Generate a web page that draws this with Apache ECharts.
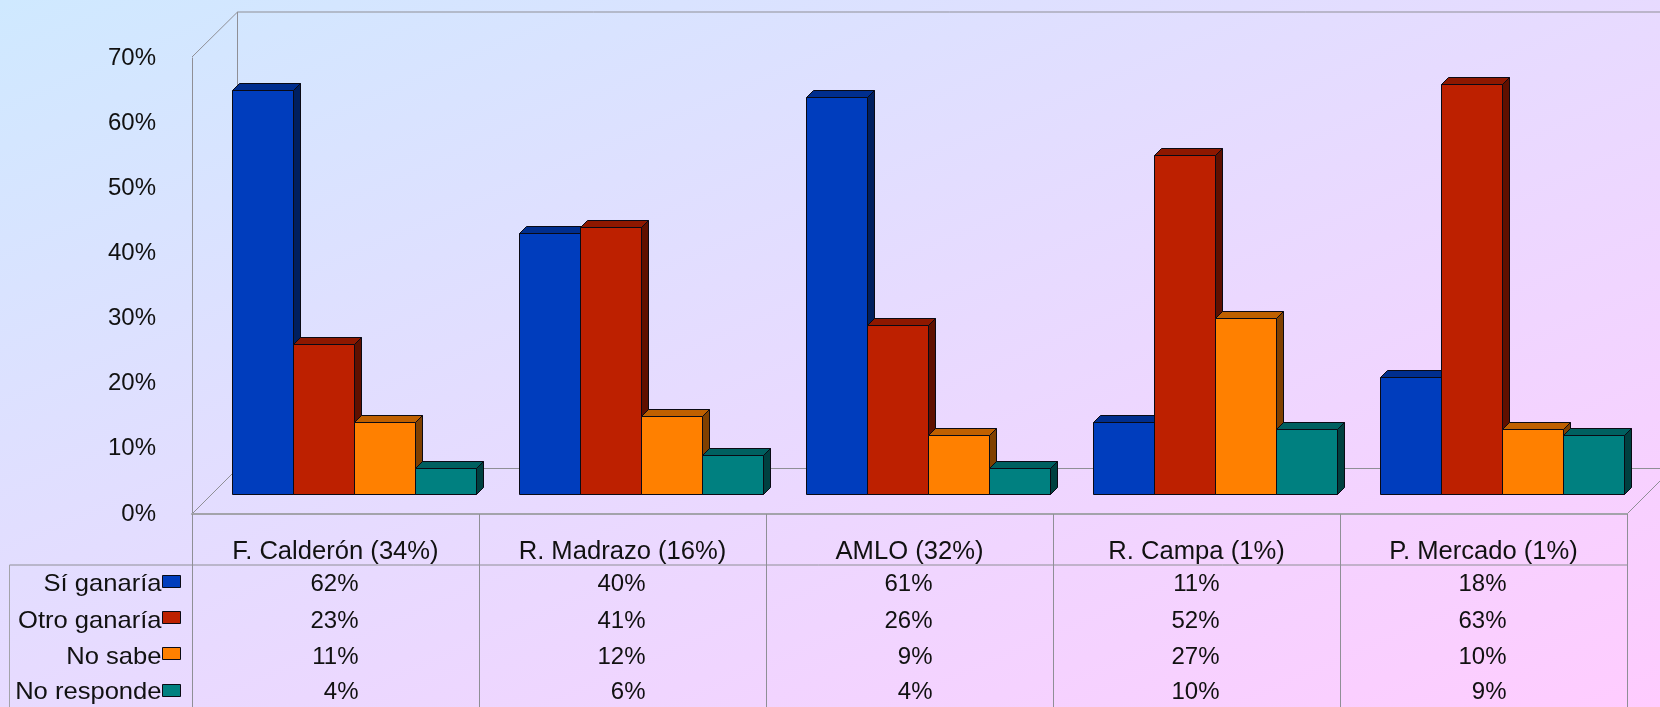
<!DOCTYPE html>
<html>
<head>
<meta charset="utf-8">
<style>html,body{margin:0;padding:0;overflow:hidden;background:#e8d8ff}#c{width:1660px;height:707px}</style>
<script src="https://cdn.jsdelivr.net/npm/echarts@6/dist/echarts.min.js"></script>
</head>
<body>
<div id="c"></div>
<script>
const categories = ['F. Calderón (34%)','R. Madrazo (16%)','AMLO (32%)','R. Campa (1%)','P. Mercado (1%)'];
const seriesNames = ['Sí ganaría','Otro ganaría','No sabe','No responde'];
const siGanaria = [62,40,61,11,18];
const otroGanaria = [23,41,26,52,63];
const noSabe = [11,12,9,27,10];
const noResponde = [4,6,4,10,9];
const yMax = 70, yStep = 10;

const values = [siGanaria, otroGanaria, noSabe, noResponde];
const faces = ['#003DBD','#BD2000','#FF8000','#008080'];
const tops  = ['#002E8E','#8E1800','#BF6000','#006060'];
const sides = ['#001F5F','#5F1000','#804000','#004040'];

// layout
const W=1660,H=707,L=192,R=1627,T=58,B=514,D=45.5;
const BAR_SHIFT_X=19.1, BAR_SHIFT_Y=19.5, BAR_D=7, GROUP=0.8516;
const rowY=[584.5,621,657,692.5], swatchY=[581,617,653.5,690];
const FONT='"Liberation Sans",Arial,sans-serif', LINE='#8f8f96', INK='#111';
const snap=v=>Math.floor(v)+0.5;

function barItem(si){
  return function(params,api){
    const cat=api.value(0),v=api.value(1);
    const base=api.coord([cat,0]),top=api.coord([cat,v]);
    const bw=api.size([1,0])[0]*GROUP/4;
    const x0=snap(base[0]+BAR_SHIFT_X+(si-2)*bw), x1=snap(base[0]+BAR_SHIFT_X+(si-1)*bw);
    const yb=snap(base[1]-BAR_SHIFT_Y), yt=snap(top[1]-BAR_SHIFT_Y), d=BAR_D;
    const st=f=>({fill:f,stroke:'#0a0a14',lineWidth:1});
    return {type:'group',children:[
      {type:'polygon',shape:{points:[[x1,yb],[x1+d,yb-d],[x1+d,yt-d],[x1,yt]]},style:st(sides[si])},
      {type:'polygon',shape:{points:[[x0,yt],[x0+d,yt-d],[x1+d,yt-d],[x1,yt]]},style:st(tops[si])},
      {type:'rect',shape:{x:x0,y:yt,width:x1-x0,height:yb-yt},style:st(faces[si])},
      {type:'text',x:base[0]+23,y:rowY[si],style:{text:v+'%',align:'right',verticalAlign:'middle',font:'24px '+FONT,fill:INK}}
    ]};
  };
}

const line=(x1,y1,x2,y2,c)=>({type:'line',silent:true,z:0,shape:{x1,y1,x2,y2},style:{stroke:c||LINE,lineWidth:1}});
const frame=[
  line(L+D,12,W+5,12), line(L+D,12,L+D,B-D), line(L+D,B-D,R+D,B-D),
  line(L,T-1,L+D,12), line(L,B,L+D,B-D), line(R,B,R+D,B-D),
  line(9.5,565,R,565), line(9.5,565,9.5,H,'#a3a3aa')
];
const legendBits=[];
seriesNames.forEach((n,i)=>{
  legendBits.push({type:'text',z:5,silent:true,x:161.5,y:rowY[i],scaleX:1.065,style:{text:n,align:'right',verticalAlign:'middle',font:'24px '+FONT,fill:INK}});
  legendBits.push({type:'rect',z:5,silent:true,shape:{x:162.5,y:snap(swatchY[i]-6),width:18,height:12},style:{fill:faces[i],stroke:'#0a0a14',lineWidth:1}});
});

const cx=830,cy=353.5,nx=254.8,ny=598.4;
const chart=echarts.init(document.getElementById('c'),null,{renderer:'canvas',width:W,height:H});
chart.setOption({
  animation:false,
  backgroundColor:{type:'linear',global:true,x:cx-nx,y:cy-ny,x2:cx+nx,y2:cy+ny,
    colorStops:[{offset:0,color:'#CFE9FF'},{offset:1,color:'#FFCCFF'}]},
  grid:{left:L,right:W-R,top:T,bottom:H-B},
  tooltip:{show:false},
  xAxis:{type:'category',data:categories,
    axisLine:{show:true,lineStyle:{color:'#a3a3aa',width:2}},
    axisTick:{show:true,length:H-B,lineStyle:{color:LINE,width:1}},
    axisLabel:{fontFamily:'Liberation Sans',fontSize:25.6,color:INK,margin:25,interval:0},
    splitLine:{show:false}},
  yAxis:{type:'value',min:0,max:yMax,interval:yStep,
    axisLine:{show:true,lineStyle:{color:LINE,width:1}},
    axisTick:{show:false},splitLine:{show:false},
    axisLabel:{formatter:'{value}%',fontFamily:'Liberation Sans',fontSize:24,color:INK,margin:36}},
  graphic:[...frame,...legendBits],
  series:values.map((arr,si)=>({
    type:'custom',name:seriesNames[si],coordinateSystem:'cartesian2d',z:2,silent:true,clip:false,
    encode:{x:0,y:1},
    data:arr.map((v,i)=>[i,v]),
    renderItem:barItem(si)
  }))
});
</script>
</body>
</html>
